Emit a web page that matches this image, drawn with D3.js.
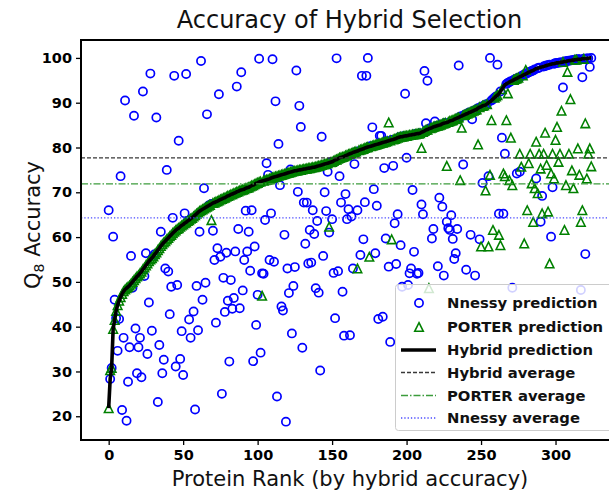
<!DOCTYPE html>
<html><head><meta charset="utf-8">
<script src="https://cdn.jsdelivr.net/npm/d3@7/dist/d3.min.js"></script>
<style>body{margin:0;background:#fff}svg{display:block}</style>
</head><body>
<svg id="chart" width="609" height="492"></svg>
<script>
// ---- data ----
const hybrid = [
21.8,28.3,30.8,39.5,41.5,43.5,44.8,45.8,46.6,47.3,
47.9,48.3,48.6,48.9,49.2,49.6,50.0,50.4,50.8,51.2,
51.5,51.9,52.3,52.8,53.2,53.7,54.1,54.6,55.0,55.3,
55.7,56.2,56.6,57.1,57.5,58.0,58.4,58.8,59.1,59.5,
59.8,60.2,60.5,60.9,61.2,61.5,61.8,62.0,62.3,62.6,
62.8,63.1,63.3,63.6,63.8,64.1,64.3,64.6,64.9,65.2,
65.5,65.8,66.0,66.2,66.4,66.6,66.8,67.0,67.2,67.4,
67.6,67.7,67.9,68.0,68.2,68.4,68.5,68.7,68.8,69.0,
69.2,69.3,69.5,69.6,69.8,69.9,70.1,70.2,70.4,70.5,
70.6,70.7,70.9,71.0,71.1,71.3,71.5,71.6,71.8,72.0,
72.1,72.3,72.4,72.5,72.6,72.7,72.8,72.9,73.0,73.2,
73.3,73.4,73.5,73.6,73.7,73.8,73.9,74.0,74.1,74.2,
74.3,74.4,74.5,74.6,74.7,74.8,74.8,74.9,75.0,75.0,
75.1,75.2,75.2,75.3,75.4,75.4,75.5,75.6,75.6,75.7,
75.8,75.9,76.0,76.1,76.2,76.3,76.4,76.5,76.6,76.7,
76.8,77.0,77.2,77.3,77.5,77.7,77.8,77.9,78.0,78.2,
78.3,78.5,78.6,78.7,78.9,79.0,79.1,79.2,79.4,79.5,
79.6,79.7,79.9,80.0,80.1,80.2,80.3,80.4,80.5,80.6,
80.7,80.8,80.9,81.0,81.1,81.2,81.3,81.4,81.5,81.6,
81.7,81.8,81.9,82.0,82.2,82.3,82.4,82.4,82.5,82.6,
82.6,82.7,82.8,82.8,82.9,82.9,83.0,83.1,83.1,83.2,
83.4,83.5,83.7,83.9,84.0,84.2,84.3,84.4,84.6,84.7,
84.8,84.9,85.0,85.1,85.3,85.4,85.5,85.6,85.7,85.9,
86.0,86.1,86.3,86.4,86.6,86.7,86.9,87.0,87.2,87.3,
87.5,87.6,87.8,87.9,88.1,88.2,88.4,88.5,88.8,89.0,
89.1,89.3,89.4,89.5,89.7,90.0,90.2,90.5,90.8,91.1,
91.4,91.7,92.0,92.5,93.0,93.5,94.0,94.2,94.4,94.6,
94.8,94.9,95.1,95.3,95.4,95.6,95.8,95.9,96.1,96.3,
96.4,96.6,96.8,96.9,97.1,97.2,97.4,97.6,97.7,97.8,
97.9,98.0,98.1,98.2,98.3,98.4,98.5,98.6,98.7,98.7,
98.8,98.9,98.9,99.0,99.0,99.1,99.2,99.2,99.3,99.4,
99.4,99.5,99.5,99.6,99.6,99.7,99.7,99.7,99.8,99.8,
99.8,99.9,99.9,100.0,100.0];

const nnessy = [
66.0,28.3,30.8,60.1,46.0,41.9,34.6,41.7,73.6,21.4,
37.5,90.5,19.0,27.7,35.4,55.8,48.7,87.1,39.6,29.6,
35.4,37.5,28.7,92.5,51.3,56.4,33.9,45.4,96.5,39.1,
55.7,56.2,86.7,23.2,35.9,61.2,29.6,32.6,53.0,75.0,
52.3,42.8,48.9,64.3,96.0,31.1,49.3,81.5,32.8,39.0,
29.2,65.3,96.4,63.6,41.6,37.5,64.1,43.4,21.5,49.1,
39.2,61.2,99.3,46.0,70.9,49.8,87.4,67.0,67.2,67.4,
61.4,54.9,40.9,57.5,91.9,55.6,25.0,50.9,43.3,56.5,
45.8,32.2,50.4,44.0,46.4,56.8,93.6,61.8,44.1,96.8,
48.1,54.9,65.9,56.8,61.2,52.5,66.0,32.3,57.9,40.4,
47.1,99.8,34.2,51.9,51.8,63.8,76.5,73.9,54.9,65.3,
99.7,54.5,90.3,24.4,80.8,71.6,44.5,43.6,60.5,18.8,
53.0,47.5,75.1,38.5,49.1,53.3,97.2,70.1,89.3,84.6,
35.3,67.7,58.5,67.7,54.1,61.6,54.3,66.0,60.7,48.6,
63.6,47.6,30.2,82.4,55.8,70.0,65.8,74.6,61.0,76.7,
64.0,52.0,41.9,99.9,52.4,73.6,67.7,47.8,38.0,69.6,
64.0,66.2,38.1,64.6,53.0,76.3,79.0,66.0,79.2,56.0,
96.0,59.5,67.8,96.0,100.0,80.2,80.3,84.5,70.7,56.4,
67.0,41.7,82.6,82.6,42.2,75.4,59.7,81.4,53.4,36.6,
81.7,75.9,63.1,54.0,65.1,82.3,58.2,48.9,82.5,92.0,
77.7,49.3,51.9,53.0,70.5,56.7,83.0,51.8,52.0,83.2,
67.3,65.1,97.1,85.4,94.9,84.2,84.3,59.7,61.8,85.8,
84.8,53.5,68.8,85.1,66.8,51.4,85.5,63.4,62.0,61.6,
64.9,59.6,55.1,56.4,61.8,98.3,86.9,87.0,76.2,87.3,
52.7,87.6,87.8,60.5,86.3,88.2,51.4,88.5,88.8,59.5,
89.1,72.1,89.4,89.5,89.7,73.6,100.0,90.5,90.8,91.1,
91.4,98.5,65.2,92.5,82.2,65.2,78.6,94.2,94.4,94.6,
94.8,48.7,95.1,95.3,74.2,95.6,74.6,95.9,96.1,96.3,
96.4,96.6,96.8,96.9,97.1,97.2,97.4,73.1,97.7,97.8,
63.4,69.2,98.1,98.2,98.3,98.4,98.5,60.1,71.1,98.7,
98.8,98.9,98.9,99.0,99.0,93.4,99.2,99.2,99.3,99.4,
99.4,99.5,99.5,99.6,99.6,99.7,99.7,48.2,95.7,99.8,
56.2,99.9,99.9,98.0,100.0];

const porter = [
21.8,30.3,30.8,39.5,41.5,43.5,44.8,45.8,46.6,47.3,
47.9,48.3,48.6,48.9,49.2,49.6,50.0,50.4,50.8,51.2,
51.5,51.9,52.3,52.8,53.2,53.7,54.1,54.6,55.0,55.3,
55.7,56.2,56.6,57.1,57.5,58.0,58.4,58.8,59.1,59.5,
59.8,60.2,60.5,60.9,61.2,61.5,61.8,62.0,62.3,62.6,
62.8,63.1,63.3,63.6,63.8,64.1,64.3,64.6,64.9,65.2,
65.5,65.8,66.0,66.2,66.4,66.6,66.8,67.0,67.2,63.8,
67.6,67.7,67.9,68.0,68.2,68.4,68.5,68.7,68.8,69.0,
69.2,69.3,69.5,69.6,69.8,69.9,70.1,70.2,70.4,70.5,
70.6,70.7,70.9,71.0,71.1,71.3,71.5,71.6,71.8,72.0,
72.1,72.3,72.4,46.9,72.6,72.7,72.8,72.9,73.0,73.2,
73.3,73.4,73.5,73.6,73.7,73.8,73.9,74.0,74.1,74.2,
74.3,74.4,74.5,74.6,74.7,74.8,74.8,74.9,75.0,75.0,
75.1,75.2,75.2,75.3,75.4,75.4,75.5,75.6,75.6,75.7,
75.8,75.9,76.0,76.1,76.2,76.3,76.4,76.5,62.3,76.7,
76.8,77.0,77.2,77.3,77.5,77.7,77.8,77.9,78.0,78.2,
78.3,78.5,78.6,78.7,78.9,79.0,79.1,53.0,79.4,79.5,
79.6,79.7,79.9,80.0,80.1,55.6,80.3,80.4,80.5,80.6,
80.7,80.8,80.9,81.0,81.1,81.2,81.3,81.4,85.6,81.6,
59.5,81.8,81.9,82.0,82.2,82.3,82.4,82.4,82.5,82.6,
82.6,82.7,82.8,82.8,82.9,82.9,83.0,83.1,83.1,83.2,
79.9,83.5,83.7,83.9,84.0,48.6,84.3,84.4,84.6,84.7,
84.8,84.9,85.0,85.1,85.3,85.4,85.5,75.9,85.7,85.9,
86.0,86.1,86.3,86.4,86.6,86.7,72.7,84.4,87.2,87.3,
87.5,87.6,87.8,87.9,88.1,88.2,88.4,88.5,80.7,89.0,
57.9,89.3,89.4,70.4,89.7,57.9,73.9,86.1,61.6,91.1,
91.4,91.7,60.5,58.2,93.0,74.2,73.6,86.1,92.1,72.7,
82.2,71.6,95.1,95.3,95.4,95.6,78.6,75.7,96.1,58.6,
97.3,66.0,76.5,78.6,72.0,63.4,70.9,81.3,69.8,78.6,
75.3,65.3,78.6,83.3,76.1,65.7,54.1,74.2,78.6,73.1,
81.7,84.6,76.8,78.6,88.2,99.1,61.6,71.6,96.9,78.6,
90.8,74.9,70.9,99.6,99.6,79.8,73.9,63.4,66.0,99.8,
85.4,73.1,78.6,79.8,75.8];

const hybridAverage = 77.7;
const porterAverage = 71.9;
const nnessyAverage = 64.3;

const xTicks = [0, 50, 100, 150, 200, 250, 300];
const yTicks = [20, 30, 40, 50, 60, 70, 80, 90, 100];
const legendLabels = ["Nnessy prediction", "PORTER prediction", "Hybrid prediction",
                      "Hybrid average", "PORTER average", "Nnessy average"];

// ---- drawing ----
const svg = d3.select("#chart");
const L = 81, T = 40, R = 609, B = 440;
const x = d3.scaleLinear().domain([-18.58, 335.9]).range([L, R]);
const y = d3.scaleLinear().domain([14.7, 104.0]).range([B, T]);
const FONT = "'DejaVu Sans', 'Liberation Sans', sans-serif";
const CR = 4.1, CW = 1.7, TS = 8.6, TW = 1.55;

svg.append("defs").append("clipPath").attr("id", "clip")
  .append("rect").attr("x", L).attr("y", T).attr("width", R - L).attr("height", B - T);

const plot = svg.append("g").attr("clip-path", "url(#clip)");

const tri = s => `M0,${-s/2}L${s/2},${s/2}L${-s/2},${s/2}Z`;

plot.append("g").selectAll("circle").data(nnessy).join("circle")
  .attr("cx", (d, i) => x(i)).attr("cy", d => y(d)).attr("r", CR)
  .attr("fill", "none").attr("stroke", "#0000ff").attr("stroke-width", CW);

plot.append("g").selectAll("path").data(porter).join("path")
  .attr("transform", (d, i) => `translate(${x(i)},${y(d)})`)
  .attr("d", tri(TS))
  .attr("fill", "none").attr("stroke", "#008000").attr("stroke-width", TW)
  .attr("stroke-linejoin", "miter");

plot.append("path").datum(hybrid)
  .attr("d", d3.line().x((d, i) => x(i)).y(d => y(d)))
  .attr("fill", "none").attr("stroke", "#000").attr("stroke-width", 3.6)
  .attr("stroke-linejoin", "round").attr("stroke-linecap", "butt");

const avgStyles = [
  {v: hybridAverage, c: "#383838", dash: "4,2"},
  {v: porterAverage, c: "#3c9c3c", dash: "7,2,1.5,2"},
  {v: nnessyAverage, c: "#4a4aff", dash: "1.3,2"}
];
avgStyles.forEach(s => {
  plot.append("line").attr("x1", L).attr("x2", R)
    .attr("y1", y(s.v)).attr("y2", y(s.v))
    .attr("stroke", s.c).attr("stroke-width", 1.3).attr("stroke-dasharray", s.dash);
});

// axes
const xAxis = d3.axisBottom(x).tickValues(xTicks).tickSize(5).tickPadding(4).tickFormat(d3.format("d"));
const yAxis = d3.axisLeft(y).tickValues(yTicks).tickSize(5).tickPadding(4).tickFormat(d3.format("d"));
const gx = svg.append("g").attr("transform", `translate(0,${B})`).call(xAxis);
const gy = svg.append("g").attr("transform", `translate(${L},0)`).call(yAxis);
[gx, gy].forEach(g => {
  g.select(".domain").remove();
  g.selectAll(".tick line").attr("stroke", "#000").attr("stroke-width", 1.3);
  g.selectAll(".tick text").attr("font-family", FONT).attr("font-weight", "bold")
    .attr("font-size", 14.5).attr("fill", "#000");
});
gx.selectAll(".tick text").attr("dy", "0.78em");

// frame
svg.append("rect").attr("x", L).attr("y", T).attr("width", R - L + 2).attr("height", B - T)
  .attr("fill", "none").attr("stroke", "#000").attr("stroke-width", 2);

// title and labels
svg.append("text").attr("x", 349.5).attr("y", 28).attr("text-anchor", "middle")
  .attr("font-family", FONT).attr("font-size", 24).attr("fill", "#111")
  .text("Accuracy of Hybrid Selection");
svg.append("text").attr("x", 350).attr("y", 486).attr("text-anchor", "middle")
  .attr("font-family", FONT).attr("font-size", 21).attr("fill", "#111")
  .text("Protein Rank (by hybrid accuracy)");
const yl = svg.append("text").attr("transform", "translate(40,225) rotate(-90)")
  .attr("text-anchor", "middle").attr("font-family", FONT).attr("font-size", 21).attr("fill", "#111");
yl.append("tspan").text("Q");
yl.append("tspan").attr("font-size", 14).attr("dy", 4).text("8");
yl.append("tspan").attr("dy", -4).text(" Accuracy");

// legend
const lg = svg.append("g");
lg.append("rect").attr("x", 395.5).attr("y", 284.5).attr("width", 240).attr("height", 146).attr("rx", 3)
  .attr("fill", "#fff").attr("fill-opacity", 0.82).attr("stroke", "#cccccc").attr("stroke-width", 1);
const rowY = [303, 327, 350, 372.5, 395.5, 418];
const hx1 = 401, hx2 = 436, hm = 419;
lg.append("circle").attr("cx", hm).attr("cy", rowY[0]).attr("r", CR)
  .attr("fill", "none").attr("stroke", "#0000ff").attr("stroke-width", CW);
lg.append("path").attr("transform", `translate(${hm},${rowY[1]})`).attr("d", tri(TS))
  .attr("fill", "none").attr("stroke", "#008000").attr("stroke-width", TW);
lg.append("line").attr("x1", hx1).attr("x2", hx2).attr("y1", rowY[2]).attr("y2", rowY[2])
  .attr("stroke", "#000").attr("stroke-width", 3.6);
avgStyles.forEach((s, k) => {
  lg.append("line").attr("x1", hx1).attr("x2", hx2).attr("y1", rowY[3 + k]).attr("y2", rowY[3 + k])
    .attr("stroke", s.c).attr("stroke-width", 1.3).attr("stroke-dasharray", s.dash);
});
legendLabels.forEach((t, k) => {
  lg.append("text").attr("x", 447).attr("y", rowY[k]).attr("dy", "0.36em")
    .attr("font-family", FONT).attr("font-weight", "bold").attr("font-size", 14.8).attr("fill", "#111")
    .text(t);
});
</script>
</body></html>
